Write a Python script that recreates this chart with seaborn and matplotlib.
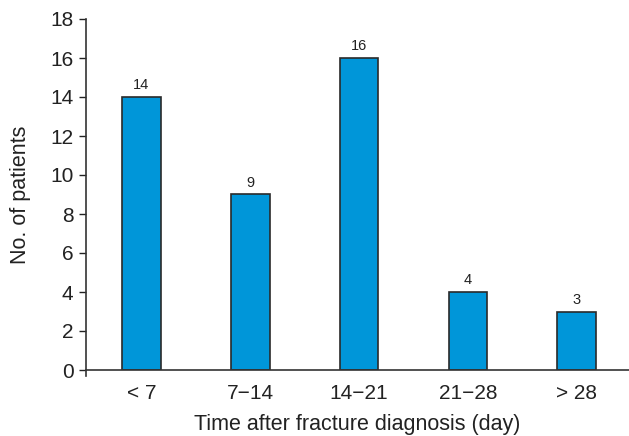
import matplotlib
matplotlib.use("Agg")
import matplotlib.pyplot as plt
import seaborn as sns
import pandas as pd

categories = ["< 7", "7\u221214", "14\u221221", "21\u221228", "> 28"]
patients = [14, 9, 16, 4, 3]
yticks = [0, 2, 4, 6, 8, 10, 12, 14, 16, 18]

sns.set_style("ticks")
plt.rcParams['font.family'] = ['Liberation Sans', 'DejaVu Sans']

df = pd.DataFrame({"cat": categories, "n": patients})

fig = plt.figure(figsize=(6.29, 4.36), dpi=100)
ax = fig.add_axes([86/629, 66/436, 1 - 86/629, (370-19)/436])
sns.barplot(data=df, x="cat", y="n", color="#0096d9", saturation=1,
            width=0.355, edgecolor="#2a2a2a", linewidth=1.2, ax=ax)

for i, v in enumerate(patients):
    ax.text(i, v + 0.25, str(v), ha="center", va="bottom", fontsize=10.5, color="#222222")

ax.set_ylim(0, 18)
ax.set_xlim(-0.51, 4.48)
ax.set_yticks(yticks)
ax.tick_params(axis="y", labelsize=15, length=5, width=1, colors="#222222", direction="out", pad=4)
ax.tick_params(axis="x", labelsize=15, length=0, pad=10, colors="#222222")
ax.set_xlabel("Time after fracture diagnosis (day)", fontsize=15.5, color="#222222", labelpad=8)
ax.set_ylabel("No. of patients", fontsize=15.5, color="#222222", labelpad=14)
for s in ["top", "right"]:
    ax.spines[s].set_visible(False)
for s in ["left", "bottom"]:
    ax.spines[s].set_color("#333333")
    ax.spines[s].set_linewidth(1.2)
ax.spines["left"].set_bounds(-0.3, 18)

fig.savefig("out.png", dpi=100)
